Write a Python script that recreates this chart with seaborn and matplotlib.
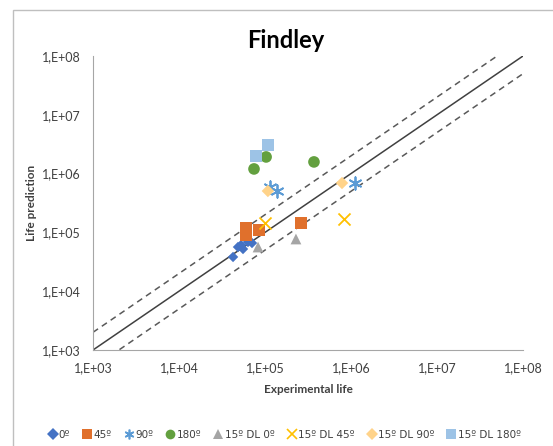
import numpy as np
import pandas as pd
import seaborn as sns
import matplotlib.pyplot as plt
from matplotlib.ticker import FuncFormatter, LogLocator
from matplotlib.lines import Line2D
from matplotlib.patches import Rectangle

# dados (vida experimental x vida prevista)
exp_0 = [42500, 48500, 52600, 55500, 63400, 70600]
pred_0 = [38200, 56400, 61000, 52200, 68700, 66000]
exp_45 = [60100, 60100, 85100, 262000]
pred_45 = [118800, 90300, 109900, 144500]
exp_90 = [114000, 138000, 1110000]
pred_90 = [591000, 506000, 692000]
exp_180 = [74500, 103000, 371000]
pred_180 = [1200000, 1920000, 1580000]
exp_dl0 = [83000, 229000]
pred_dl0 = [56400, 77200]
exp_dl45 = [100000, 829000]
pred_dl45 = [144500, 169000]
exp_dl90 = [108000, 786000]
pred_dl90 = [506000, 692000]
exp_dl180 = [78600, 108000]
pred_dl180 = [1990000, 3060000]

series_names = ["0º", "45º", "90º", "180º", "15º DL 0º", "15º DL 45º", "15º DL 90º", "15º DL 180º"]
exp_all = [exp_0, exp_45, exp_90, exp_180, exp_dl0, exp_dl45, exp_dl90, exp_dl180]
pred_all = [pred_0, pred_45, pred_90, pred_180, pred_dl0, pred_dl45, pred_dl90, pred_dl180]

diag = [1e3, 1e8]  # linha 1:1
band = 2  # fator de dispersao

asterisco = (6, 2, 0)  # asterisco (linhas)

estilos = {
    "0º": dict(marker="D", color="#4472C4", s=28),
    "45º": dict(marker="s", color="#E0702C", s=70),
    "90º": dict(marker=asterisco, color="#5B9BD5", s=80),
    "180º": dict(marker="o", color="#63A03F", s=70),
    "15º DL 0º": dict(marker="^", color="#A5A5A5", s=60),
    "15º DL 45º": dict(marker="x", color="#FFC000", s=75),
    "15º DL 90º": dict(marker="D", color="#FFD38A", s=40),
    "15º DL 180º": dict(marker="s", color="#9DC3E6", s=70),
}
linhas_art = ("x", asterisco)

linhas = []
for nome, xs, ys in zip(series_names, exp_all, pred_all):
    for xv, yv in zip(xs, ys):
        linhas.append({"serie": nome, "exp": xv, "pred": yv})
dados = pd.DataFrame(linhas)

sns.set_style("white")
plt.rcParams['font.family'] = ['Lato', 'DejaVu Sans']

fig = plt.figure(figsize=(5.53, 4.46), dpi=100)
ax = fig.add_axes([93 / 553, 1 - 350 / 446, 430 / 553, 294 / 446])

# moldura do grafico
fig.patches.append(Rectangle((13 / 553, -0.05), 1.1, 1 - 10 / 446 + 0.05, transform=fig.transFigure,
                             fill=False, edgecolor="#BFBFBF", linewidth=1))

ax.plot(diag, diag, color="#404040", lw=1.1, zorder=1)
ax.plot(diag, [d * band for d in diag], color="#595959", lw=1.1, ls=(0, (4, 3)), zorder=1)
ax.plot(diag, [d / band for d in diag], color="#595959", lw=1.1, ls=(0, (4, 3)), zorder=1)

for nome in series_names:
    sub = dados[dados["serie"] == nome]
    st = estilos[nome]
    kw = dict(marker=st["marker"], color=st["color"], s=st["s"], ax=ax, legend=False, zorder=3)
    if st["marker"] in linhas_art:
        kw["linewidth"] = 1.3
    else:
        kw["edgecolor"] = "none"
    sns.scatterplot(data=sub, x="exp", y="pred", **kw)

ax.set_xscale("log")
ax.set_yscale("log")
ax.set_xlim(1e3, 1e8)
ax.set_ylim(1e3, 1e8)

fmt = FuncFormatter(lambda v, p: "1,E+%02d" % int(round(np.log10(v))))
ax.xaxis.set_major_formatter(fmt)
ax.yaxis.set_major_formatter(fmt)
ax.xaxis.set_minor_locator(LogLocator(base=10, subs=np.arange(2, 10)))
ax.yaxis.set_minor_locator(LogLocator(base=10, subs=np.arange(2, 10)))
ax.tick_params(axis="x", which="both", direction="in", colors="#A6A6A6", labelcolor="#404040", labelsize=9, pad=9)
ax.tick_params(axis="x", which="major", length=5)
ax.tick_params(axis="x", which="minor", length=3)
ax.tick_params(axis="y", which="both", direction="out", colors="#A6A6A6", labelcolor="#404040", labelsize=9)
ax.tick_params(axis="y", which="major", length=5)
ax.tick_params(axis="y", which="minor", length=3)

sns.despine(ax=ax)
for sp in ["left", "bottom"]:
    ax.spines[sp].set_color("#A6A6A6")

ax.set_xlabel("Experimental life", fontsize=8.5, fontweight="bold", color="#404040", labelpad=7)
ax.set_ylabel("Life prediction", fontsize=8.5, fontweight="bold", color="#404040", labelpad=4)
fig.text(286 / 553, 1 - 40 / 446, "Findley", ha="center", va="center", fontsize=17, fontweight="bold", color="#000000")

handles = []
for nome in series_names:
    st = estilos[nome]
    mk = st["marker"]
    h = Line2D([], [], ls="none", marker=mk, color=st["color"], markersize=7 if mk != "D" else 6,
               markeredgewidth=1.2 if mk in linhas_art else 0, label=nome)
    handles.append(h)
fig.legend(handles=handles, loc="center", bbox_to_anchor=(284 / 553, 1 - 435 / 446), ncol=8, frameon=False,
           prop={"family": ["DejaVu Sans"], "size": 7.5},
           handletextpad=0.1, columnspacing=1.15, handlelength=1.0, labelcolor="#404040")

fig.savefig("out.png", dpi=100)
